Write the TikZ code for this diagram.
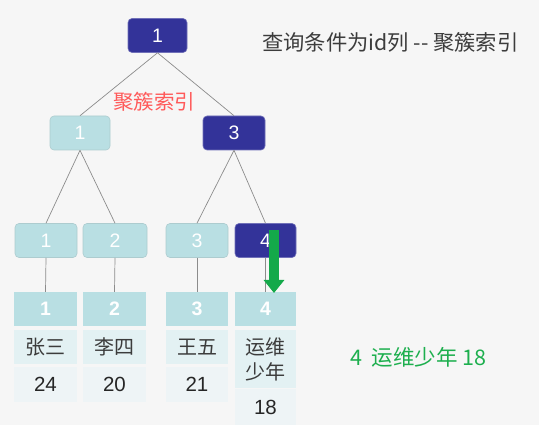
\documentclass[tikz,border=0pt]{standalone}
\usepackage{fontspec}
\setmainfont{Liberation Sans}
\newfontfamily\cjk{Noto Sans CJK SC}
\usetikzlibrary{arrows.meta}
\definecolor{navy}{HTML}{333399}
\definecolor{cyanbox}{HTML}{B9DFE3}
\definecolor{namebg}{HTML}{E3F1F3}
\definecolor{agebg}{HTML}{EEF4F6}
\definecolor{bg}{HTML}{F6F6F6}
\definecolor{linegray}{HTML}{8C8C8C}
\definecolor{gtext}{HTML}{1DAF4E}
\definecolor{garrow}{HTML}{14A94A}
\definecolor{redtext}{HTML}{FF5A5A}
\definecolor{darktext}{HTML}{3C3C3C}
\tikzset{
  x=1pt, y=-1pt,
  treenode/.style={rounded corners=4pt, minimum height=34pt, inner sep=0pt,
    font=\fontsize{19.5}{21}\selectfont, text=white, line width=0.6pt},
  darknode/.style={treenode, fill=navy, draw=navy!70!white},
  lightnode/.style={treenode, fill=cyanbox, draw=cyanbox!80!gray},
  hdr/.style={fill=cyanbox, minimum height=34pt, inner sep=0pt,
    font=\fontsize{19.5}{21}\selectfont\bfseries, text=white},
  namecell/.style={fill=namebg, inner sep=0pt, font=\cjk\fontsize{20}{25}\selectfont,
    text=darktext, align=center},
  agecell/.style={fill=agebg, inner sep=0pt, font=\fontsize{20.5}{22}\selectfont, text=black!85},
  link/.style={draw=linegray, line width=0.7pt},
}
\begin{document}
\begin{tikzpicture}
\fill[bg] (0,0) rectangle (539,425);
\useasboundingbox (0,0) rectangle (539,425);

% tree nodes
\node[darknode, minimum width=59pt] (r) at (157.5,35.5) {1};
\node[lightnode, minimum width=60pt] (a) at (80,133) {1};
\node[darknode, minimum width=62pt] (b) at (234,133) {3};
\node[lightnode, minimum width=62pt] (a1) at (46,240.5) {1};
\node[lightnode, minimum width=64pt] (a2) at (115,240.5) {2};
\node[lightnode, minimum width=62pt] (b1) at (197,240.5) {3};
\node[darknode, minimum width=61pt] (b2) at (265.5,240.5) {4};

% data headers
\node[hdr, minimum width=63pt] (h1) at (45.5,309) {1};
\node[hdr, minimum width=63pt] (h2) at (114.5,309) {2};
\node[hdr, minimum width=62pt] (h3) at (197,309) {3};
\node[hdr, minimum width=61pt] (h4) at (265.5,309) {4};

% names
\node[namecell, minimum width=63pt, minimum height=34pt] (n1) at (45.5,347) {张三};
\node[namecell, minimum width=63pt, minimum height=34pt] (n2) at (114.5,347) {李四};
\node[namecell, minimum width=62pt, minimum height=34pt] (n3) at (197,347) {王五};
\node[namecell, minimum width=61pt, minimum height=58pt] (n4) at (265.5,359) {运维\\少年};

% ages
\node[agecell, minimum width=63pt, minimum height=35pt] (g1) at (45.5,384.5) {24};
\node[agecell, minimum width=63pt, minimum height=35pt] (g2) at (114.5,384.5) {20};
\node[agecell, minimum width=62pt, minimum height=35pt] (g3) at (197,384.5) {21};
\node[agecell, minimum width=61pt, minimum height=36pt] (g4) at (265.5,407) {18};

% connectors
\draw[link] (r.south) -- (a.north);
\draw[link] (r.south) -- (b.north);
\draw[link] (a.south) -- (a1.north);
\draw[link] (a.south) -- (a2.north);
\draw[link] (b.south) -- (b1.north);
\draw[link] (b.south) -- (b2.north);
\draw[link] (a1.south) -- (h1.north);
\draw[link] (a2.south) -- (h2.north);
\draw[link] (b1.south) -- (h3.north);
\draw[link] (b2.south) -- (h4.north);

% green arrow
\coordinate (gstart) at (274,230);
\coordinate (gtip) at (274,293);
\draw[garrow, line width=10pt, -{Triangle[width=20pt,length=13pt]}] (gstart) -- (gtip);

% texts
\node[font=\cjk\fontsize{21.3}{23}\selectfont, text=darktext, anchor=west, inner sep=0pt] (title) at (262,42) {查询条件为id列 -- 聚簇索引};
\node[font=\cjk\fontsize{20.5}{22}\selectfont, text=redtext, inner sep=0pt] (cl) at (154,102) {聚簇索引};
\node[font=\cjk\fontsize{21.5}{23}\selectfont, text=gtext, anchor=west, inner sep=0pt] (res) at (350,357) {4\ \ 运维少年 18};
\end{tikzpicture}
\end{document}
